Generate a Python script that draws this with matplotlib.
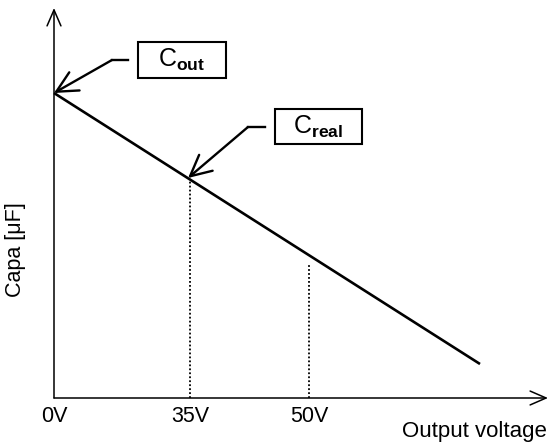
import matplotlib
matplotlib.use("Agg")
import matplotlib.pyplot as plt
from matplotlib.patches import Rectangle

plt.rcParams["font.family"] = ["Liberation Sans", "DejaVu Sans"]
plt.rcParams["mathtext.fontset"] = "custom"
plt.rcParams["mathtext.rm"] = "Liberation Sans"
plt.rcParams["mathtext.bf"] = "Liberation Sans:bold"

# schematic units (not to scale), origin at the axes corner
voltage_labels = ["0V", "35V", "50V"]
voltage_pos = [0, 136, 255]

# capacitance vs output voltage (straight decreasing line)
capa_x = [0, 426]
capa_y = [305, 34]

# top of the dotted guide lines at 35V and 50V
guide_top = [218, 135]

x_end = 494
y_end = 390

fig = plt.figure(figsize=(5.5, 4.45), dpi=100)
ax = fig.add_axes([0, 0, 1, 1])
ax.set_xlim(-54, 496)
ax.set_ylim(-47, 398)
ax.axis("off")

# axes with open arrow heads
axis_arrow = dict(arrowstyle="->,head_length=1.15,head_width=0.5", lw=1.1,
                  color="black", mutation_scale=10, shrinkA=0, shrinkB=0)
ax.annotate("", xy=(x_end, 0), xytext=(0, 0), arrowprops=axis_arrow)
ax.annotate("", xy=(0, y_end), xytext=(0, 0), arrowprops=axis_arrow)

# main line
ax.plot(capa_x, capa_y, color="black", lw=1.9, solid_capstyle="butt")

# dotted guides
for xp, top in zip(voltage_pos[1:], guide_top):
    ax.plot([xp, xp], [0, top], color="black", lw=1.3, linestyle=(0, (1, 1.2)))

# tick labels
for xp, lab in zip(voltage_pos, voltage_labels):
    ax.text(xp, -18, lab, ha="center", va="center", fontsize=15.5)

ax.text(493, -39.5, "Output voltage", ha="right", va="baseline", fontsize=16)
ax.text(-38, 148, "Capa [μF]", ha="center", va="center", rotation=90, fontsize=15.5)

# callouts
callouts = [
    (r"$\mathrm{C}_{\mathbf{out}}$", (0, 305), (58, 338), (84, 320, 88, 36)),
    (r"$\mathrm{C}_{\mathbf{real}}$", (134, 220), (194, 271), (221, 254, 87, 35)),
]
call_arrow = dict(arrowstyle="->,head_length=1.5,head_width=0.75", lw=1.7,
                  color="black", mutation_scale=10, shrinkA=0, shrinkB=0)
for label, tip, bend, box in callouts:
    bx, by, bw, bh = box
    ax.plot([bend[0], bx - 10], [bend[1], bend[1]], color="black", lw=1.7)
    ax.annotate("", xy=tip, xytext=bend, arrowprops=call_arrow)
    ax.add_patch(Rectangle((bx, by), bw, bh, fill=False, lw=1.5, edgecolor="black"))
    ax.text(bx + bw / 2, by + bh / 2, label, ha="center", va="center", fontsize=18)

fig.savefig("out.png", dpi=100)
